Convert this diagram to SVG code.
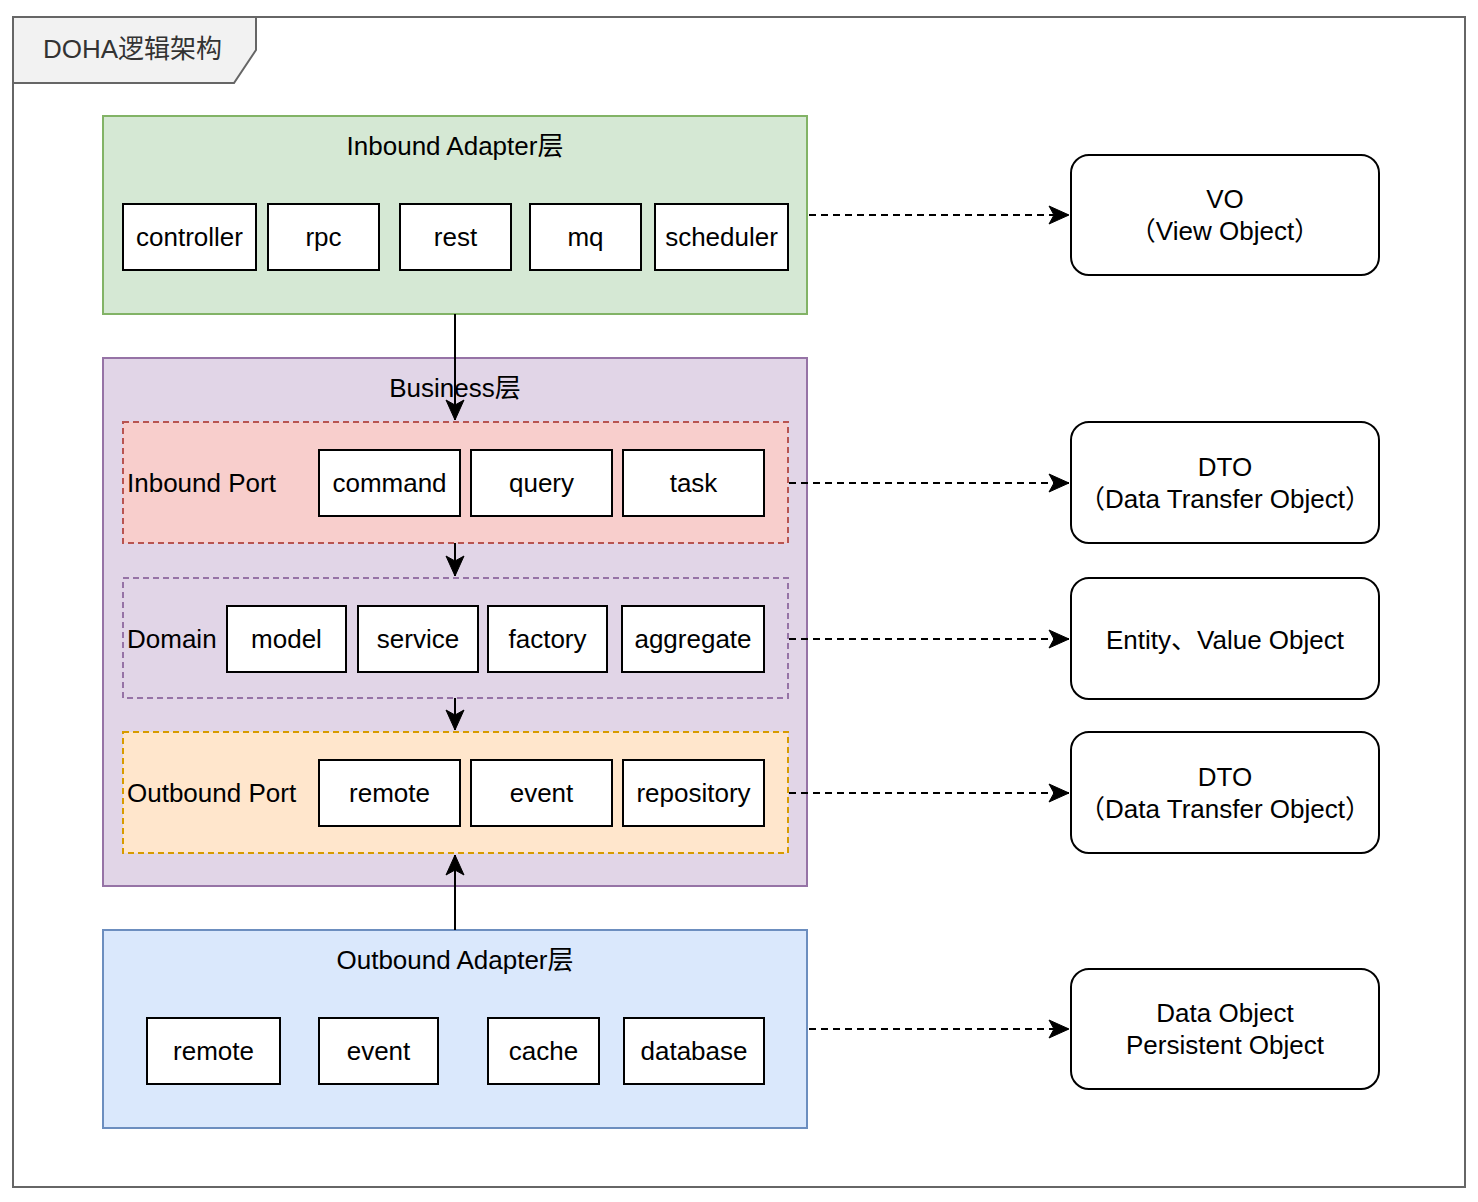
<svg xmlns="http://www.w3.org/2000/svg" width="1478" height="1202" viewBox="0 0 1478 1202">
<style>
text{font-family:"Liberation Sans","Noto Sans CJK SC",Arial,sans-serif;font-size:26px;fill:#000}
.c{text-anchor:middle}
.box{fill:#fff;stroke:#000;stroke-width:2}
.obj{fill:#fff;stroke:#000;stroke-width:2}
.conn{fill:none;stroke:#000;stroke-width:2}
.dash{stroke-dasharray:7 5}
</style>
<defs>
<marker id="ah" markerUnits="userSpaceOnUse" markerWidth="22" markerHeight="22" refX="20" refY="10" orient="auto" overflow="visible">
<path d="M0,1 L20,10 L0,19 L5,10 Z" fill="#000" stroke="#000" stroke-width="1"/>
</marker>
</defs>
<rect width="1478" height="1202" fill="#fff"/>
<g id="frame">
<rect x="13" y="17" width="1452" height="1170" fill="#fff" stroke="#666" stroke-width="2"/>
<path d="M13,17 L256,17 L256,50 L234,83 L13,83 Z" fill="#f2f2f2" stroke="#666" stroke-width="2"/>
<text x="43" y="58" style="fill:#333">DOHA逻辑架构</text>
</g>
<g id="inbound-adapter">
<rect x="103" y="116" width="704" height="198" fill="#d5e8d4" stroke="#82b366" stroke-width="2"/>
<text class="c" x="455" y="155">Inbound Adapter层</text>
<rect class="box" x="123" y="204" width="133" height="66"/><text class="c" x="189.5" y="246">controller</text>
<rect class="box" x="268" y="204" width="111" height="66"/><text class="c" x="323.5" y="246">rpc</text>
<rect class="box" x="400" y="204" width="111" height="66"/><text class="c" x="455.5" y="246">rest</text>
<rect class="box" x="530" y="204" width="111" height="66"/><text class="c" x="585.5" y="246">mq</text>
<rect class="box" x="655" y="204" width="133" height="66"/><text class="c" x="721.5" y="246">scheduler</text>
</g>
<g id="business">
<rect x="103" y="358" width="704" height="528" fill="#e1d5e7" stroke="#9673a6" stroke-width="2"/>
<text class="c" x="455" y="397">Business层</text>
</g>
<g id="inbound-port">
<rect x="123" y="422" width="665" height="121" fill="#f8cecc" stroke="#b85450" stroke-width="2" stroke-dasharray="6 4"/>
<text x="127" y="492">Inbound Port</text>
<rect class="box" x="319" y="450" width="141" height="66"/><text class="c" x="389.5" y="492">command</text>
<rect class="box" x="471" y="450" width="141" height="66"/><text class="c" x="541.5" y="492">query</text>
<rect class="box" x="623" y="450" width="141" height="66"/><text class="c" x="693.5" y="492">task</text>
</g>
<g id="domain">
<rect x="123" y="578" width="665" height="120" fill="#e1d5e7" stroke="#9673a6" stroke-width="2" stroke-dasharray="6 4"/>
<text x="127" y="648">Domain</text>
<rect class="box" x="227" y="606" width="119" height="66"/><text class="c" x="286.5" y="648">model</text>
<rect class="box" x="358" y="606" width="120" height="66"/><text class="c" x="418" y="648">service</text>
<rect class="box" x="488" y="606" width="119" height="66"/><text class="c" x="547.5" y="648">factory</text>
<rect class="box" x="622" y="606" width="142" height="66"/><text class="c" x="693" y="648">aggregate</text>
</g>
<g id="outbound-port">
<rect x="123" y="732" width="665" height="121" fill="#ffe6cc" stroke="#d79b00" stroke-width="2" stroke-dasharray="6 4"/>
<text x="127" y="802">Outbound Port</text>
<rect class="box" x="319" y="760" width="141" height="66"/><text class="c" x="389.5" y="802">remote</text>
<rect class="box" x="471" y="760" width="141" height="66"/><text class="c" x="541.5" y="802">event</text>
<rect class="box" x="623" y="760" width="141" height="66"/><text class="c" x="693.5" y="802">repository</text>
</g>
<g id="outbound-adapter">
<rect x="103" y="930" width="704" height="198" fill="#dae8fc" stroke="#6c8ebf" stroke-width="2"/>
<text class="c" x="455" y="969">Outbound Adapter层</text>
<rect class="box" x="147" y="1018" width="133" height="66"/><text class="c" x="213.5" y="1060">remote</text>
<rect class="box" x="319" y="1018" width="119" height="66"/><text class="c" x="378.5" y="1060">event</text>
<rect class="box" x="488" y="1018" width="111" height="66"/><text class="c" x="543.5" y="1060">cache</text>
<rect class="box" x="624" y="1018" width="140" height="66"/><text class="c" x="694" y="1060">database</text>
</g>
<g id="vo">
<rect class="obj" x="1071" y="155" width="308" height="120" rx="18"/>
<text class="c" x="1225" y="208">VO</text>
<text class="c" x="1225" y="240">（View Object）</text>
</g>
<g id="dto-in">
<rect class="obj" x="1071" y="422" width="308" height="121" rx="18"/>
<text class="c" x="1225" y="476">DTO</text>
<text class="c" x="1225" y="508">（Data Transfer Object）</text>
</g>
<g id="entity">
<rect class="obj" x="1071" y="578" width="308" height="121" rx="18"/>
<text class="c" x="1225" y="649">Entity、Value Object</text>
</g>
<g id="dto-out">
<rect class="obj" x="1071" y="732" width="308" height="121" rx="18"/>
<text class="c" x="1225" y="786">DTO</text>
<text class="c" x="1225" y="818">（Data Transfer Object）</text>
</g>
<g id="data-object">
<rect class="obj" x="1071" y="969" width="308" height="120" rx="18"/>
<text class="c" x="1225" y="1022">Data Object</text>
<text class="c" x="1225" y="1054">Persistent Object</text>
</g>
<g id="connectors">
<path class="conn" d="M455,314 L455,420" marker-end="url(#ah)"/>
<path class="conn" d="M455,543 L455,576" marker-end="url(#ah)"/>
<path class="conn" d="M455,698 L455,730" marker-end="url(#ah)"/>
<path class="conn" d="M455,930 L455,855" marker-end="url(#ah)"/>
<path class="conn dash" d="M809,215 L1069,215" marker-end="url(#ah)"/>
<path class="conn dash" d="M789,483 L1069,483" marker-end="url(#ah)"/>
<path class="conn dash" d="M789,639 L1069,639" marker-end="url(#ah)"/>
<path class="conn dash" d="M789,793 L1069,793" marker-end="url(#ah)"/>
<path class="conn dash" d="M809,1029 L1069,1029" marker-end="url(#ah)"/>
</g>
</svg>
